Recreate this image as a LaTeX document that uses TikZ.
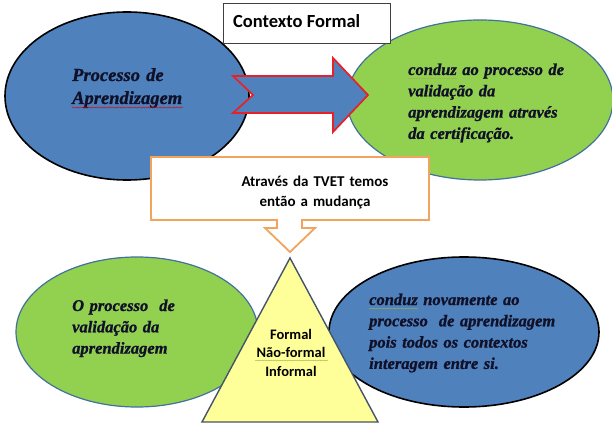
\documentclass[tikz,border=0pt]{standalone}
\usepackage{fontspec}
\setmainfont{Liberation Serif}
\newfontfamily\timesbi{Liberation Serif}[UprightFont=* Bold Italic, FakeBold=1.1]
\newfontfamily\carlito{Carlito}
\usetikzlibrary{shapes.geometric,decorations.pathmorphing}
\definecolor{bluefill}{HTML}{4F81BD}
\definecolor{greenfill}{HTML}{92D050}
\definecolor{greenborder}{HTML}{41719C}
\definecolor{arrowred}{HTML}{E8202A}
\definecolor{calloutorange}{HTML}{F2A35E}
\definecolor{trifill}{HTML}{FFFF99}
\definecolor{triborder}{HTML}{44546A}
\definecolor{darktext}{HTML}{101028}
\definecolor{spellgreen}{HTML}{9AB050}
\tikzset{
  ell/.style={ellipse, inner sep=0pt, minimum width=#1},
  blueell/.style={ell=10pt, draw=black, line width=1.6pt, fill=bluefill},
  greenell/.style={ell=10pt, draw=greenborder, line width=1.2pt, fill=greenfill},
  serifbig/.style={font=\timesbi\fontsize{18.5}{23}\selectfont, text=darktext,
    inner sep=0pt, anchor=base west, align=left, text width=200pt},
  serifmid/.style={font=\timesbi\fontsize{16.5}{21.3}\selectfont, text=darktext,
    inner sep=0pt, anchor=base west, align=left, text width=220pt},
  sanstext/.style={font=\carlito\bfseries, text=black, inner sep=0pt},
  spellred/.style={draw=red!85!black, line width=0.35pt, decorate,
    decoration={snake, amplitude=0.6pt, segment length=2.6pt}},
  spellgr/.style={draw=spellgreen, line width=0.35pt, decorate,
    decoration={snake, amplitude=0.5pt, segment length=2.2pt}},
}
\begin{document}
\begin{tikzpicture}[x=1pt,y=-1pt]
\useasboundingbox (0,0) rectangle (612,427);
\fill[white] (0,0) rectangle (612,427);

% top ellipses
\node[blueell, minimum width=244pt, minimum height=168pt] (pa) at (127,96) {};
\node[greenell, minimum width=266pt, minimum height=160pt] (cv) at (480,100) {};

% arrow between them
\draw[fill=bluefill, draw=arrowred, line width=1.7pt, line join=miter]
  (233,76) -- (333,76) -- (333,58) -- (368,95) -- (333,132) -- (333,113)
  -- (233,113) -- (253,95) -- cycle;

% Contexto Formal box
\node[draw=black!75, line width=0.8pt, fill=white, minimum width=167pt,
  minimum height=40pt, inner sep=0pt] (cf) at (306.5,23) {};
\node[sanstext, font=\carlito\bfseries\fontsize{18.5}{22}\selectfont, anchor=base west]
  (cft) at (233,27.5) {Contexto Formal};

% texts in top ellipses
\node[serifbig] (pat) at (72,81) {Processo de\\Aprendizagem};
\draw[spellred] (72,107.5) -- (183,107.5);
\node[serifmid] (cvt) at (408,75) {conduz ao processo de\\valida\c{c}\~ao da\\aprendizagem atrav\'es\\da certifica\c{c}\~ao.};
\draw[spellgr] (408,78.5) -- (457,78.5);

% callout
\draw[fill=white, draw=calloutorange, line width=1.8pt, line join=miter]
  (151,157) -- (429,157) -- (429,220) -- (302,220) -- (302,228) -- (315,228)
  -- (290,252) -- (265,228) -- (277,228) -- (277,220) -- (151,220) -- cycle;
\coordinate (tip) at (290,252);
\node[sanstext, font=\carlito\bfseries\fontsize{15}{20}\selectfont, anchor=base,
  align=center, text width=200pt] (tv) at (315,187) {Atrav\'es da TVET temos\\ent\~ao a mudan\c{c}a};

% bottom ellipses
\node[greenell, minimum width=242pt, minimum height=150pt] (pv) at (137,332) {};
\node[blueell, minimum width=270pt, minimum height=150pt] (cn) at (464,332) {};

% triangle
\draw[fill=trifill, draw=triborder, line width=1.4pt, line join=miter]
  (290,258) -- (378,422) -- (202,422) -- cycle;
\coordinate (apex) at (290,258);
\node[sanstext, font=\carlito\bfseries\fontsize{14.5}{18.5}\selectfont, anchor=base,
  align=center, text width=100pt] (fni) at (291,339) {Formal\\N\~ao-formal\\Informal};
\draw[spellgr] (255,360.5) -- (328,360.5);

% texts in bottom ellipses
\node[serifmid] (pvt) at (72,311) {O processo\ \ de\\valida\c{c}\~ao da\\aprendizagem};
\node[serifmid] (cnt) at (369,305) {conduz novamente ao\\processo\ \ de aprendizagem\\pois todos os contextos\\interagem entre si.};
\draw[spellgr] (369,308.5) -- (418,308.5);
\end{tikzpicture}
\end{document}
